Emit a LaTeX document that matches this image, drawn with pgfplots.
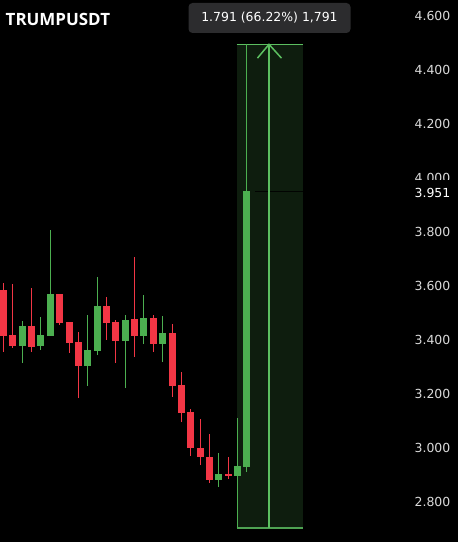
\documentclass[border=0pt]{standalone}
\usepackage{fontspec}
\setmainfont{DejaVu Sans}
\newfontfamily\titlefont{Open Sans}
\usepackage{pgfplots}
\usepackage{pgfplotstable}
\pgfplotsset{compat=1.18}
\definecolor{upg}{HTML}{4CAF50}
\definecolor{dnr}{HTML}{F23645}
\definecolor{boxfill}{HTML}{0E1D0E}
\definecolor{boxline}{HTML}{5CBF60}
\definecolor{lbl}{HTML}{2C2C2E}
\definecolor{tickc}{HTML}{DADADA}

% x = candle index, o h l c
\pgfplotstableread{
x o h l c
0 3.585 3.611 3.356 3.415
1 3.419 3.607 3.370 3.378
3 3.452 3.593 3.356 3.374
6 3.570 3.570 3.456 3.463
7 3.467 3.467 3.352 3.389
8 3.393 3.430 3.185 3.304
11 3.526 3.559 3.400 3.463
12 3.467 3.474 3.315 3.396
14 3.478 3.707 3.337 3.415
16 3.481 3.493 3.356 3.385
18 3.426 3.459 3.189 3.230
19 3.233 3.281 3.096 3.130
20 3.133 3.144 2.970 3.000
21 3.000 3.107 2.937 2.967
22 2.967 3.052 2.870 2.881
24 2.904 2.967 2.885 2.896
}\reddata

\pgfplotstableread{
x o h l c
2 3.378 3.470 3.315 3.452
4 3.378 3.485 3.363 3.419
5 3.415 3.807 3.415 3.570
9 3.304 3.493 3.230 3.363
10 3.359 3.633 3.344 3.526
13 3.396 3.493 3.222 3.474
15 3.415 3.567 3.385 3.481
17 3.385 3.489 3.319 3.426
23 2.881 2.981 2.856 2.904
25 2.896 3.111 2.704 2.933
26 2.930 4.495 2.912 3.951
}\greendata

\begin{document}
\begin{tikzpicture}
\fill[black] (0,0) rectangle (457bp,542bp);
\begin{axis}[
  at={(0,0)}, anchor=south west,
  scale only axis, width=457bp, height=542bp,
  xmin=-0.3204, xmax=48.479,
  ymin=2.651852, ymax=4.659259,
  axis line style={draw=none},
  xtick=\empty,
  ytick={2.8,3.0,3.2,3.4,3.6,3.8,4.0,4.2,4.4,4.6},
  yticklabel pos=right,
  major tick length=0pt,
  yticklabel style={font=\fontsize{12.5}{14}\selectfont, text=tickc, anchor=east, inner sep=0pt, xshift=-7bp,
    /pgf/number format/fixed, /pgf/number format/fixed zerofill, /pgf/number format/precision=3,
    /pgf/number format/assume math mode=true},
  clip=false,
  candle/.style={draw=none, mark=none, error bars/y explicit, error bars/error mark=none},
]
% measurement box
\addplot[fill=boxfill, draw=none] coordinates {(24.88,2.704) (32.03,2.704) (32.03,4.495) (24.88,4.495)} --cycle;
\addplot[draw=black!85!boxfill, line width=0.8bp] coordinates {(26.9,3.951) (32.03,3.951)};
\addplot[boxline, line width=1.5bp] coordinates {(24.88,4.495) (32.03,4.495)};
\addplot[boxline!85!black, line width=1.5bp] coordinates {(24.88,2.704) (32.03,2.704)};
\addplot[boxline, line width=1.5bp] coordinates {(28.35,2.704) (28.35,4.495)};
\addplot[boxline, line width=1.5bp] coordinates {(27.12,4.444) (28.35,4.495) (29.68,4.444)};
% wicks
\addplot[candle, error bars/y dir=plus, error bars/error bar style={draw=dnr, line width=1bp}]
  table[x=x, y=l, y error expr=\thisrow{h}-\thisrow{l}] {\reddata};
\addplot[candle, error bars/y dir=plus, error bars/error bar style={draw=upg, line width=1bp}]
  table[x=x, y=l, y error expr=\thisrow{h}-\thisrow{l}] {\greendata};
% bodies
\addplot[candle, error bars/y dir=both, error bars/error bar style={draw=dnr, line width=7bp}]
  table[x=x, y expr=(\thisrow{o}+\thisrow{c})/2, y error expr=abs(\thisrow{o}-\thisrow{c})/2] {\reddata};
\addplot[candle, error bars/y dir=both, error bars/error bar style={draw=upg, line width=7bp}]
  table[x=x, y expr=(\thisrow{o}+\thisrow{c})/2, y error expr=abs(\thisrow{o}-\thisrow{c})/2] {\greendata};
\end{axis}
% last price label covering part of 4.000
\fill[black] (404bp,337bp) rectangle (457bp,362bp);
\node[anchor=east, inner sep=0pt, text=white, font=\fontsize{12.5}{14}\selectfont] at (450bp,349bp) {3.951};
% title
\node[anchor=base west, inner sep=0pt, text=white, font=\titlefont\bfseries\fontsize{17}{20}\selectfont] at (5bp,516bp) {TRUMPUSDT};
% measurement label
\node[fill=lbl, rounded corners=4bp, text=white, minimum width=162bp, minimum height=30bp, inner sep=0pt,
  font=\fontsize{12.5}{14}\selectfont] at (269bp,524bp) {1.791 (66.22\%) 1,791};
\end{tikzpicture}
\end{document}
